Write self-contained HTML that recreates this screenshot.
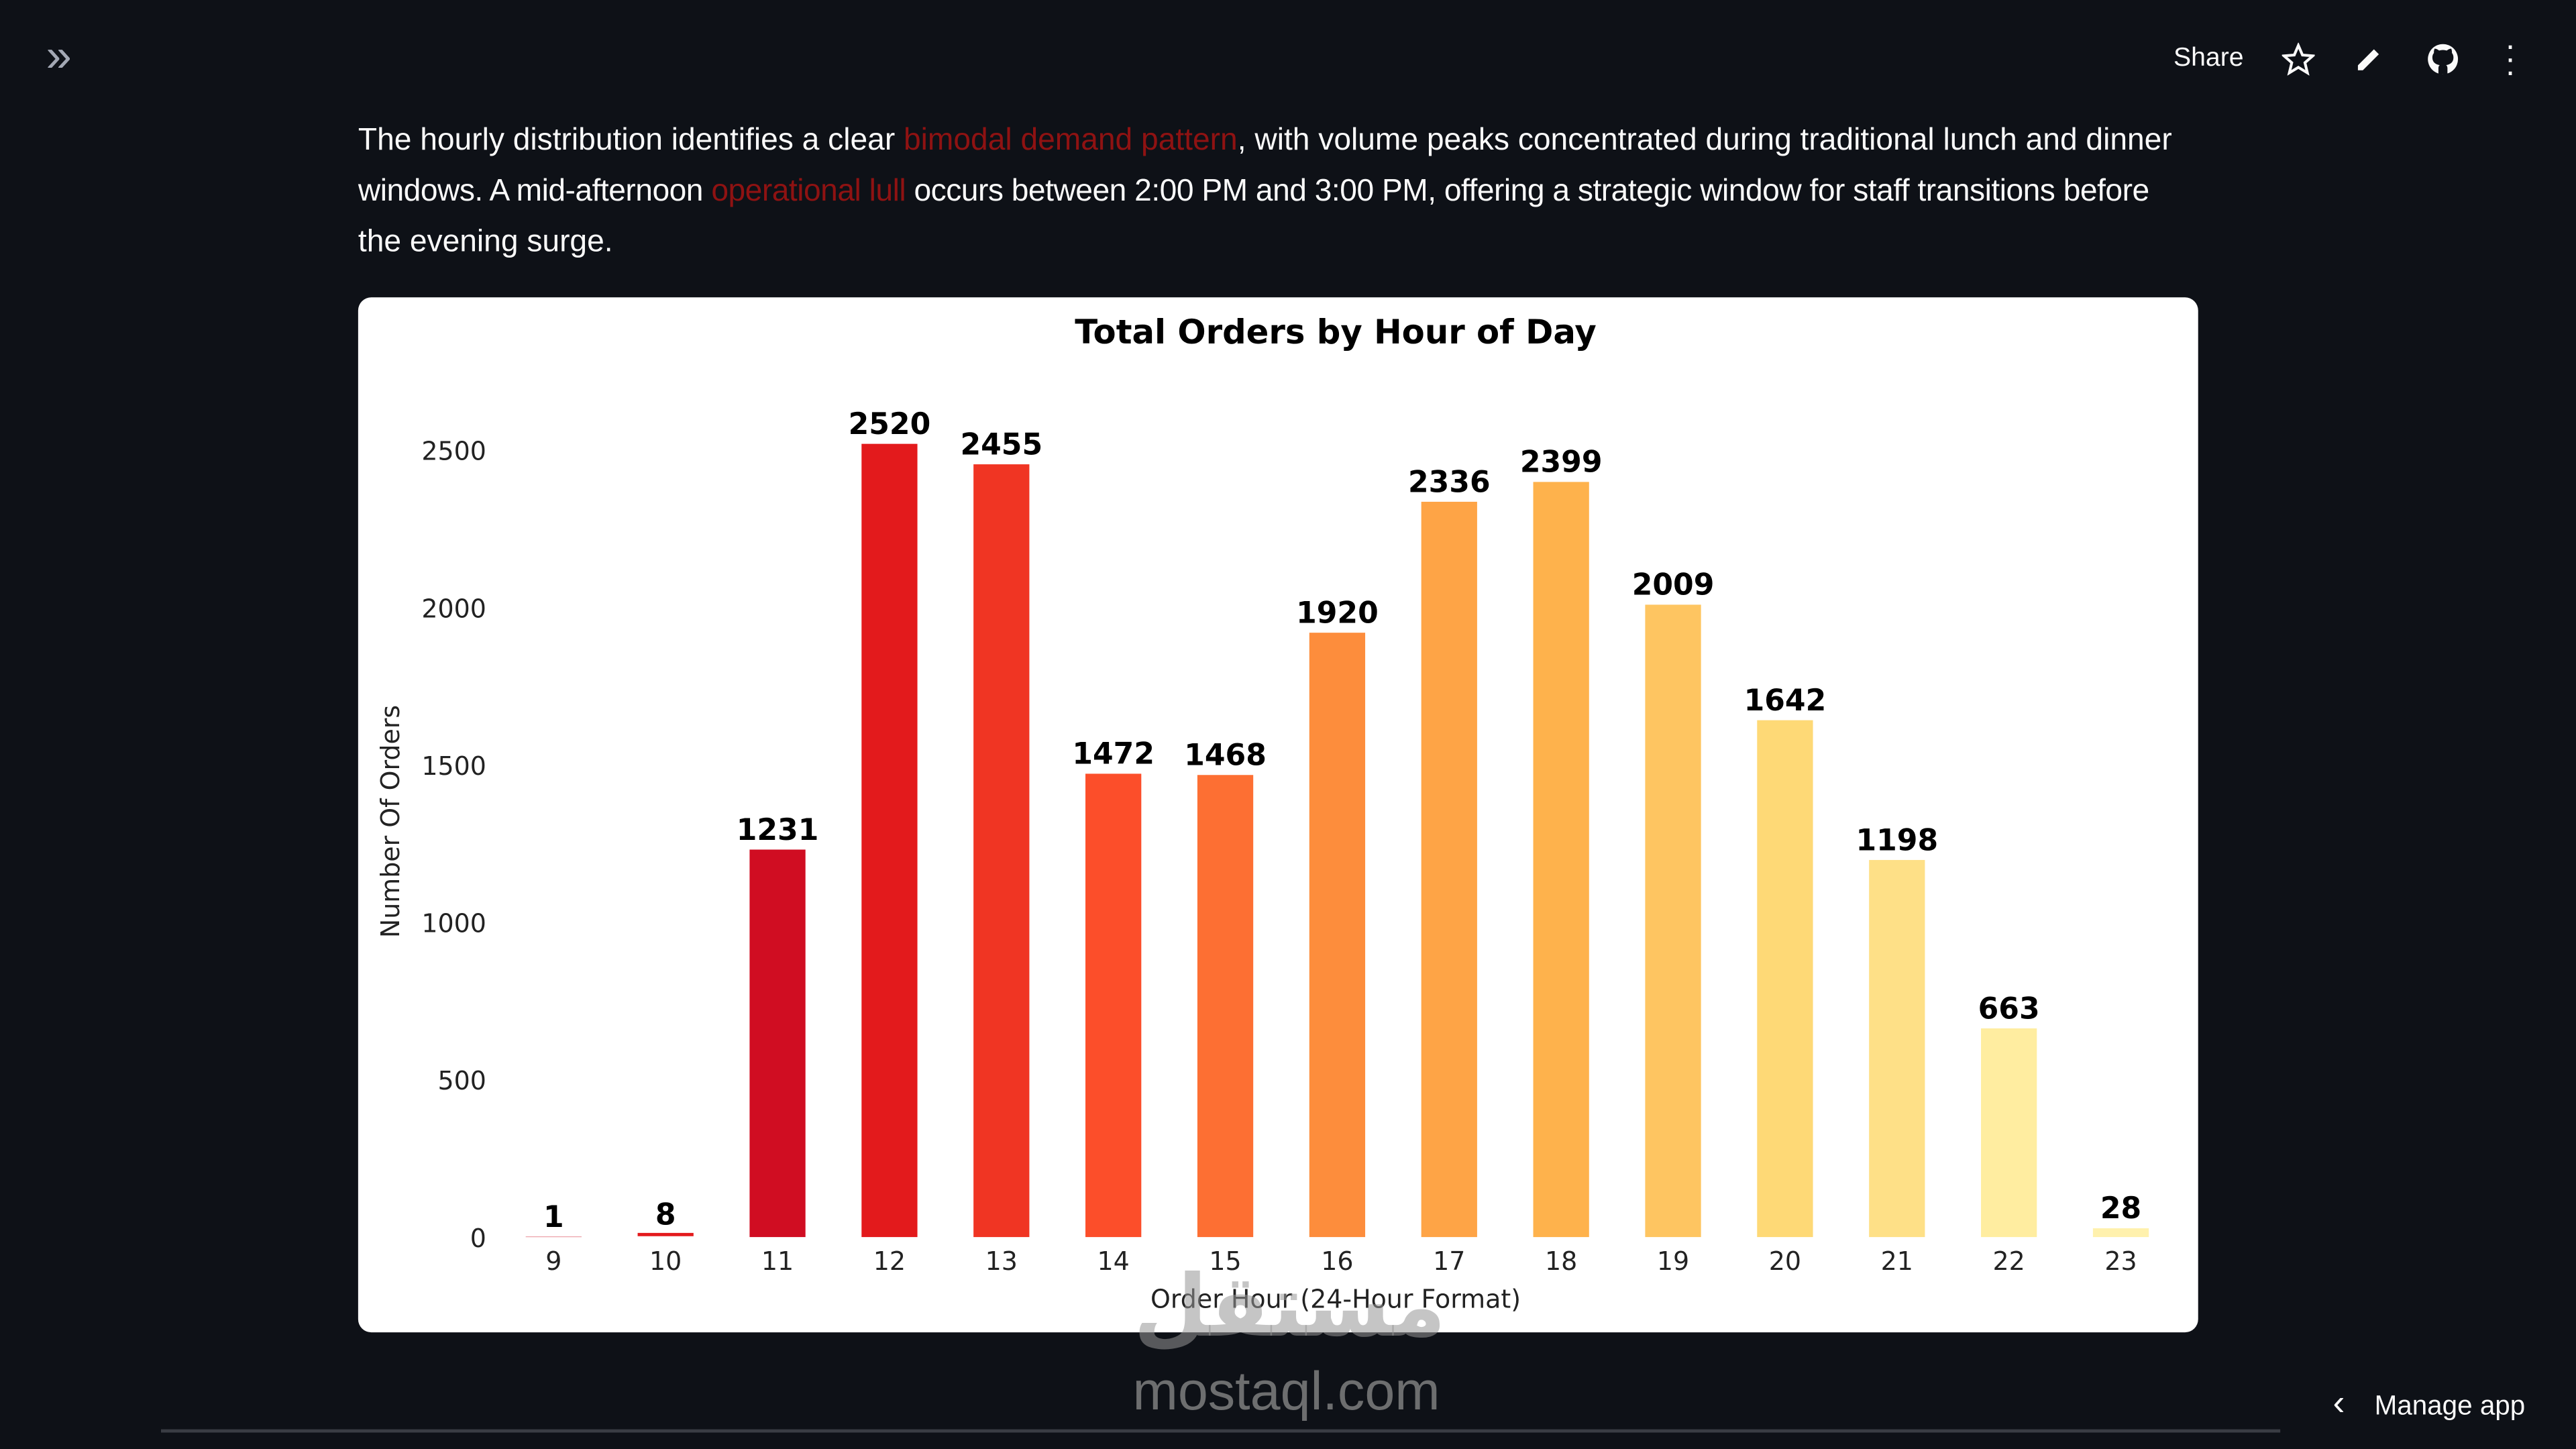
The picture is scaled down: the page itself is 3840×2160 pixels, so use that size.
<!DOCTYPE html>
<html><head><meta charset="utf-8">
<style>
html,body{margin:0;padding:0;background:#0e1117;width:3840px;height:2160px;overflow:hidden}
#wrap{position:absolute;left:0;top:0;width:1568px;height:882px;transform:scale(2.44898);transform-origin:0 0;font-family:"Liberation Sans",sans-serif;color:#fafafa}
.abs{position:absolute}
p{margin:0}
.red{color:#8f1212}
</style></head><body>
<div id="wrap">
<div class="abs" style="left:28px;top:18px;font-size:28px;color:#a3a8b4;letter-spacing:-4px">»</div>
<div class="abs" style="left:1323px;top:27px;font-size:16px">Share</div>
<svg class="abs" style="left:1389px;top:26px" width="20" height="20" viewBox="0 0 24 24"><path d="M12 2l3 7 7.5.6-5.7 5 1.8 7.4L12 18l-6.6 4 1.8-7.4-5.7-5L9 9z" fill="none" stroke="#fafafa" stroke-width="2"/></svg>
<svg class="abs" style="left:1433px;top:27px" width="18" height="18" viewBox="0 0 24 24"><path d="M3 21v-4L16 4l4 4L7 21z" fill="#fafafa"/></svg>
<svg class="abs" style="left:1476px;top:25px" width="22" height="22" viewBox="0 0 24 24"><circle cx="12" cy="12" r="10" fill="#fafafa"/><path d="M9 22v-4c0-1 .5-2 1-2-3-.5-5-2-5-5 0-1.5.5-2.5 1-3 0-1 0-2 .5-3 1 0 2 .5 3 1.3a9 9 0 0 1 5 0c1-.8 2-1.3 3-1.3.5 1 .5 2 .5 3 .5.5 1 1.5 1 3 0 3-2 4.5-5 5 .5 0 1 1 1 2v4z" fill="#0e1117"/></svg>
<div class="abs" style="left:1524px;top:24px;width:8px;font-size:20px;line-height:8px;text-align:center">·<br>·<br>·</div>
<div class="abs" style="left:218px;top:69px;font-size:18.85px;line-height:31px;white-space:nowrap;letter-spacing:0">
<p>The hourly distribution identifies a clear <span class="red">bimodal demand pattern</span>, with volume peaks concentrated during traditional lunch and dinner</p>
<p style="letter-spacing:-0.2px">windows. A mid-afternoon <span class="red">operational lull</span> occurs between 2:00 PM and 3:00 PM, offering a strategic window for staff transitions before</p>
<p>the evening surge.</p>
</div>
<div class="abs" style="left:218px;top:181px;width:1120px;height:630px;background:#fff;border-radius:8px"></div>
<svg id="chart" class="abs" style="left:0;top:0" width="1568" height="882" font-family="DejaVu Sans, sans-serif"></svg>
<div class="abs" style="left:680px;top:766px;width:210px;text-align:center;font-family:'DejaVu Sans',sans-serif;font-size:52px;font-weight:bold;color:rgba(150,150,150,0.55)">مستقل</div>
<div class="abs" style="left:670px;top:828px;width:226px;text-align:center;font-size:33px;color:rgba(150,150,150,0.7)">mostaql.com</div>
<div class="abs" style="left:98px;top:870px;width:1290px;height:2px;background:#3a3d44"></div>
<div class="abs" style="left:1420px;top:845px;font-size:16.5px"><span style="margin-right:18px;font-size:22px;line-height:17px">‹</span>Manage app</div>
</div>
<script>
const hours=[9,10,11,12,13,14,15,16,17,18,19,20,21,22,23];
const orders=[1,8,1231,2520,2455,1472,1468,1920,2336,2399,2009,1642,1198,663,28];
const colors=["#d00d22","#e31a1c","#d00d22","#e31a1c","#f03523","#fc4e2a","#fd6f33","#fd8d3c","#fea446","#feb24c","#fec561","#fed976","#fee087","#ffeda0","#fff1ad"];
const yTicks=[0,500,1000,1500,2000,2500];
const svg=document.getElementById('chart');
const NS='http://www.w3.org/2000/svg';
const x0=337,dx=68.14,y0=753,ppu=479/2500,bw=34;
const X=i=>x0+i*dx, Y=v=>y0-v*ppu;
function mk(t,a,txt){const e=document.createElementNS(NS,t);for(const k in a)e.setAttribute(k,a[k]);if(txt!==undefined)e.textContent=txt;svg.appendChild(e);return e;}
let t=mk('text',{x:813,y:209,'text-anchor':'middle','font-size':'20.3','font-weight':'bold',fill:'#000'},'Total Orders by Hour of Day');


yTicks.forEach(v=>{const e=mk('text',{x:296,y:Y(v)+6,'text-anchor':'end','font-size':'15.5',fill:'#222'},v);

});
hours.forEach((h,i)=>{
const v=orders[i];
const r=mk('rect',{x:X(i)-bw/2,y:Y(v),width:bw,height:Math.max(v*ppu,0.1),fill:colors[i]});
if(i===1){r.setAttribute('y',Y(v)-1);r.setAttribute('height',2);}


const l=mk('text',{x:X(i),y:Y(v)-6,'text-anchor':'middle','font-size':'18','font-weight':'bold',fill:'#000'},v);


const xl=mk('text',{x:X(i),y:773,'text-anchor':'middle','font-size':'15.5',fill:'#222'},h);


});
t=mk('text',{x:813,y:796,'text-anchor':'middle','font-size':'15.5',fill:'#222'},'Order Hour (24-Hour Format)');


t=mk('text',{x:243,y:500,'text-anchor':'middle','font-size':'15.5',fill:'#222',transform:'rotate(-90 243 500)'},'Number Of Orders');


</script>
</body></html>
